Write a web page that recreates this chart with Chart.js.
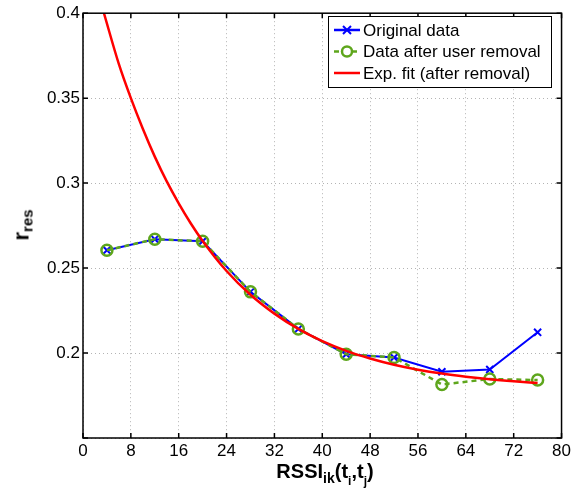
<!DOCTYPE html>
<html>
<head>
<meta charset="utf-8">
<script src="https://cdn.jsdelivr.net/npm/chart.js@4"></script>
<style>
  body { margin: 0; background: #fff; }
  #wrap { position: relative; width: 574px; height: 496px; font-family: "Liberation Sans", Arial, sans-serif; }
  #xTitle { position: absolute; left: 0; width: 650px; top: 460px; text-align: center; font-weight: bold; font-size: 20px; }
  #xTitle sub { font-size: 14px; vertical-align: -5px; }
  #yTitle { position: absolute; left: 22px; top: 225px; font-weight: bold; font-size: 22px;
            transform: translate(-50%, -50%) rotate(-90deg); white-space: nowrap; }
  #yTitle sub { font-size: 15px; vertical-align: -4px; }
  .sub2 { font-size: 12px !important; vertical-align: -7px !important; }
</style>
</head>
<body>
<div id="wrap">
  <canvas id="canvas" width="574" height="496"></canvas>
  <div id="xTitle">RSSI<sub>ik</sub>(t<sub class="sub2">i</sub>,t<sub class="sub2">j</sub>)</div>
  <div id="yTitle">r<sub>res</sub></div>
</div>
<script>
const rssi = [4, 12, 20, 28, 36, 44, 52, 60, 68, 76];
const originalData = [0.2605, 0.2670, 0.2658, 0.2360, 0.2142, 0.1993, 0.1974, 0.1890, 0.1903, 0.2122];
const afterRemoval = [0.2605, 0.2670, 0.2658, 0.2360, 0.2142, 0.1993, 0.1974, 0.1815, 0.1847, 0.1841];

// points
const fitX = [3.5, 6, 8, 10, 12, 14, 16, 18, 20, 24, 28, 32, 36, 40, 44, 48, 52, 56, 60, 64, 68, 72, 76];
const fitY = [0.400, 0.370, 0.350, 0.332, 0.3156, 0.301, 0.2881, 0.2764, 0.266, 0.2483, 0.2343, 0.2232, 0.2142, 0.207, 0.2013, 0.1968, 0.1931, 0.1902, 0.1879, 0.1861, 0.1846, 0.1834, 0.1824];

const xTicks = [0, 80, 8];
const yTicks = [0.15, 0.4, 0.05];

const blue = '#0000ff';
const green = '#5ea61c';
const red = '#ff0000';

Chart.defaults.font.family = '"Liberation Sans", Arial, sans-serif';
Chart.defaults.font.size = 17;
Chart.defaults.color = '#000';

const toPoints = (xs, ys) => xs.map((x, i) => ({ x: x, y: ys[i] }));

const legendItems = [
  { label: 'Original data', color: blue, dash: [], marker: 'cross' },
  { label: 'Data after user removal', color: green, dash: [5, 4], marker: 'circle' },
  { label: 'Exp. fit (after removal)', color: red, dash: [], marker: null },
];

const framePlugin = {
  id: 'frame',
  afterDatasetsDraw(chart) {
    const { ctx, chartArea: a, scales } = chart;
    ctx.save();
    ctx.strokeStyle = '#000';
    ctx.lineWidth = 1.5;
    ctx.beginPath();
    scales.x.ticks.forEach((t) => {
      const px = scales.x.getPixelForValue(t.value);
      ctx.moveTo(px, a.bottom); ctx.lineTo(px, a.bottom - 5);
      ctx.moveTo(px, a.top); ctx.lineTo(px, a.top + 5);
    });
    scales.y.ticks.forEach((t) => {
      const py = scales.y.getPixelForValue(t.value);
      ctx.moveTo(a.left, py); ctx.lineTo(a.left + 5, py);
      ctx.moveTo(a.right, py); ctx.lineTo(a.right - 5, py);
    });
    ctx.stroke();
    ctx.strokeRect(a.left, a.top, a.right - a.left, a.bottom - a.top);
    ctx.restore();
  },
  afterDraw(chart) {
    const ctx = chart.ctx;
    const box = { left: 328, top: 16, right: 551, bottom: 87 };
    ctx.save();
    ctx.fillStyle = '#fff';
    ctx.fillRect(box.left, box.top, box.right - box.left, box.bottom - box.top);
    ctx.strokeStyle = '#000';
    ctx.lineWidth = 1;
    ctx.strokeRect(box.left + 0.5, box.top + 0.5, box.right - box.left, box.bottom - box.top);
    ctx.font = '17px "Liberation Sans", Arial, sans-serif';
    ctx.textBaseline = 'middle';
    legendItems.forEach((item, i) => {
      const y = 30 + i * 21.5;
      ctx.strokeStyle = item.color;
      ctx.lineWidth = 2.5;
      ctx.setLineDash(item.dash);
      ctx.beginPath();
      ctx.moveTo(334, y); ctx.lineTo(360, y);
      ctx.stroke();
      ctx.setLineDash([]);
      if (item.marker === 'cross') {
        ctx.lineWidth = 2;
        ctx.beginPath();
        ctx.moveTo(343, y - 4); ctx.lineTo(351, y + 4);
        ctx.moveTo(351, y - 4); ctx.lineTo(343, y + 4);
        ctx.stroke();
      } else if (item.marker === 'circle') {
        ctx.fillStyle = '#fff';
        ctx.lineWidth = 2.5;
        ctx.beginPath();
        ctx.arc(347, y, 5, 0, Math.PI * 2);
        ctx.fill();
        ctx.stroke();
      }
      ctx.fillStyle = '#000';
      ctx.fillText(item.label, 363, y + 1);
    });
    ctx.restore();
  },
};

const canvas = document.getElementById('canvas');

new Chart(canvas, {
  type: 'line',
  data: {
    datasets: [
      {
        label: 'Original data',
        data: toPoints(rssi, originalData),
        borderColor: blue,
        backgroundColor: blue,
        borderWidth: 2,
        pointStyle: 'crossRot',
        pointRadius: 5,
        pointBorderWidth: 2,
        order: 3,
      },
      {
        label: 'Data after user removal',
        data: toPoints(rssi, afterRemoval),
        borderColor: green,
        backgroundColor: 'transparent',
        borderWidth: 2.5,
        borderDash: [5, 4],
        pointStyle: 'circle',
        pointRadius: 5.5,
        pointBorderWidth: 2.5,
        order: 2,
      },
      {
        label: 'Exp. fit (after removal)',
        data: toPoints(fitX, fitY),
        borderColor: red,
        borderWidth: 2.5,
        pointRadius: 0,
        cubicInterpolationMode: 'monotone',
        order: 1,
      },
    ],
  },
  options: {
    responsive: false,
    animation: false,
    layout: { padding: { top: 12, right: 8, left: 0, bottom: 0 } },
    plugins: { legend: { display: false }, tooltip: { enabled: false } },
    scales: {
      x: {
        type: 'linear',
        min: xTicks[0],
        max: xTicks[1],
        afterFit: (scale) => { scale.height = 58; },
        ticks: { stepSize: xTicks[2], padding: 3, maxRotation: 0 },
        grid: { color: '#b4b4b4', lineWidth: 1, drawTicks: false },
        border: { display: false, dash: [1, 3] },
      },
      y: {
        min: yTicks[0],
        max: yTicks[1],
        afterFit: (scale) => { scale.width = 83; },
        ticks: {
          stepSize: yTicks[2],
          padding: 3,
          callback: (v) => (v < 0.17 ? '' : String(+v.toFixed(2))),
        },
        grid: { color: '#b4b4b4', lineWidth: 1, drawTicks: false },
        border: { display: false, dash: [1, 3] },
      },
    },
  },
  plugins: [framePlugin],
});
</script>
</body>
</html>
